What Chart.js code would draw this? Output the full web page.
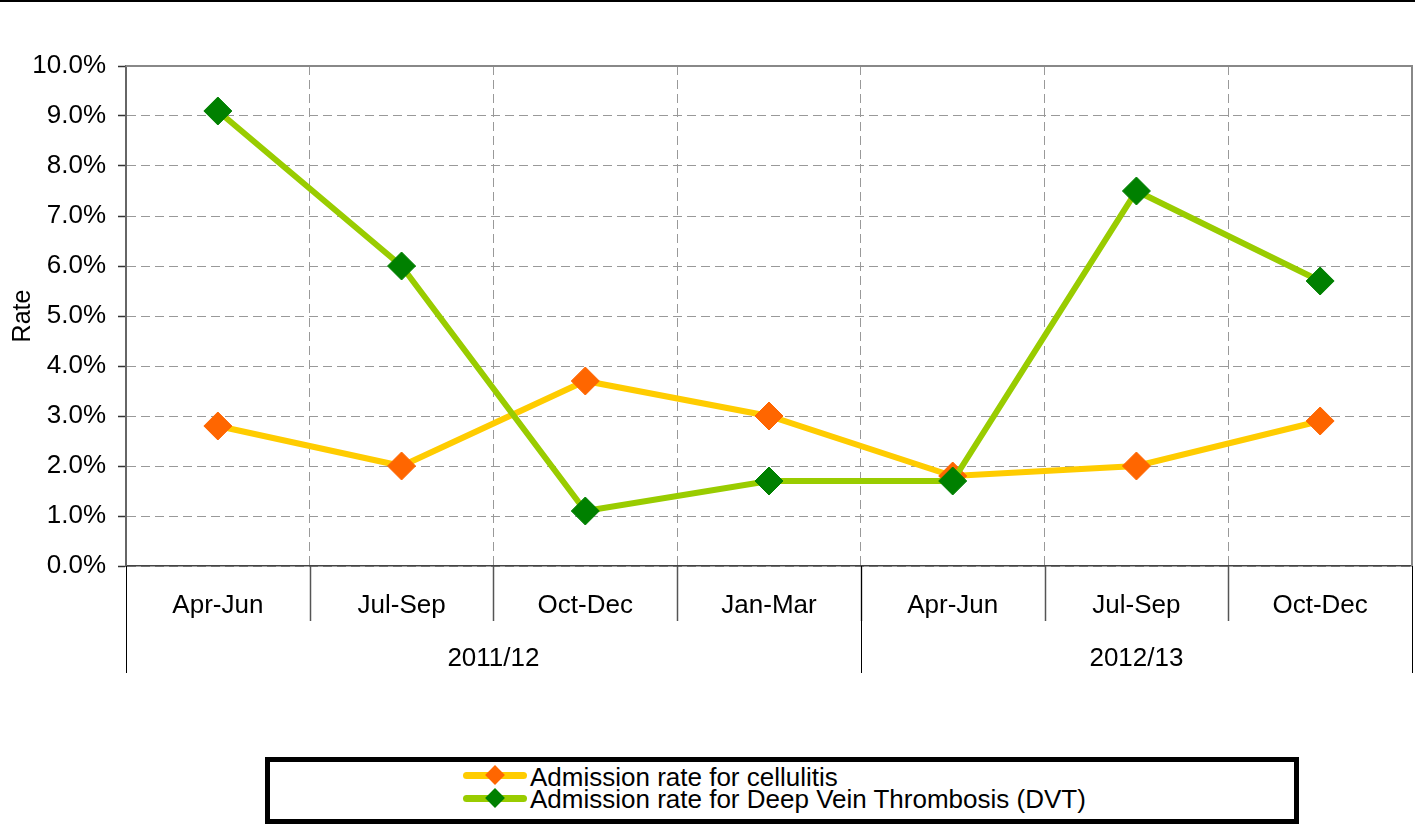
<!DOCTYPE html>
<html>
<head>
<meta charset="utf-8">
<script src="https://cdn.jsdelivr.net/npm/chart.js@4/dist/chart.umd.min.js"></script>
<style>
    body { margin: 0; background: #fff; font-family: "Liberation Sans", Arial, sans-serif; }
    #topline { position: absolute; left: 0; top: 0; width: 1415px; height: 2px; background: #000; }
    #grafico { position: absolute; left: 0; top: 0; }
    #legenda {
        position: absolute; left: 265px; top: 757px; width: 1034px; height: 67px;
        box-sizing: border-box; border: 5px solid #000; background: #fff;
    }
    .linha { position: absolute; left: 193px; width: 64px; height: 7px; border-radius: 4px; }
    .losango { position: absolute; left: 218px; width: 14px; height: 14px; transform: rotate(45deg); }
    .texto { position: absolute; left: 260px; font-size: 26px; line-height: 26px; color: #000; white-space: nowrap; }
</style>
</head>
<body>
<canvas id="grafico" width="1415" height="740"></canvas>
<div id="topline"></div>
<div id="legenda"></div>
<script>
var quarters = ['Apr-Jun', 'Jul-Sep', 'Oct-Dec', 'Jan-Mar', 'Apr-Jun', 'Jul-Sep', 'Oct-Dec']
var years = ['2011/12', '2012/13']
var yearSpans = [4, 3]
var cellulitis = [2.8, 2.0, 3.7, 3.0, 1.8, 2.0, 2.9]
var dvt = [9.1, 6.0, 1.1, 1.7, 1.7, 7.5, 5.7]
var seriesNames = ['Admission rate for cellulitis', 'Admission rate for Deep Vein Thrombosis (DVT)']
var lineColors = ['#FFCC00', '#99CC00']
var markerColors = ['#FF6600', '#008000']

const fonte = "'Liberation Sans', Arial, sans-serif"

// frame, separators under the axis and the year row
const extras = {
    id: 'extras',
    afterDraw(chart) {
        const ctx = chart.ctx
        const area = chart.chartArea
        const step = (area.right - area.left) / quarters.length

        ctx.save()
        ctx.strokeStyle = '#888'
        ctx.lineWidth = 2
        ctx.beginPath()
        ctx.moveTo(area.left, area.top)
        ctx.lineTo(area.right, area.top)
        ctx.lineTo(area.right, area.bottom)
        ctx.stroke()

        // quarter separators
        ctx.strokeStyle = '#555'
        ctx.lineWidth = 1.5
        for (var i = 1; i < quarters.length; i++) {
            const px = Math.round(area.left + i * step) + 0.5
            ctx.beginPath()
            ctx.moveTo(px, area.bottom)
            ctx.lineTo(px, area.bottom + 55)
            ctx.stroke()
        }

        // year separators and labels
        ctx.strokeStyle = '#000'
        ctx.lineWidth = 1
        ctx.fillStyle = '#000'
        ctx.font = '26px ' + fonte
        ctx.textAlign = 'center'
        ctx.textBaseline = 'alphabetic'
        var start = 0
        for (var j = 0; j <= years.length; j++) {
            const px = Math.round(area.left + start * step) + 0.5
            ctx.beginPath()
            ctx.moveTo(px, area.bottom)
            ctx.lineTo(px, area.bottom + 107)
            ctx.stroke()
            if (j < years.length) {
                const mid = area.left + (start + yearSpans[j] / 2) * step
                ctx.fillText(years[j], mid, area.bottom + 100)
                start += yearSpans[j]
            }
        }
        ctx.restore()
    }
}

const ctx = document.getElementById('grafico')
const grafico = new Chart(ctx, {
    type: 'line',
    data: {
        labels: quarters,
        datasets: [
            {
                label: seriesNames[0],
                data: cellulitis,
                borderColor: lineColors[0],
                borderWidth: 6,
                pointStyle: 'rectRot',
                pointRadius: 14,
                pointBackgroundColor: markerColors[0],
                pointBorderColor: markerColors[0],
                pointBorderWidth: 1,
                order: 2,
            },
            {
                label: seriesNames[1],
                data: dvt,
                borderColor: lineColors[1],
                borderWidth: 6,
                pointStyle: 'rectRot',
                pointRadius: 14,
                pointBackgroundColor: markerColors[1],
                pointBorderColor: markerColors[1],
                pointBorderWidth: 1,
                order: 1,
            },
        ],
    },
    options: {
        responsive: false,
        animation: false,
        layout: { autoPadding: false, padding: { top: 66, right: 3, left: 0, bottom: 0 } },
        plugins: {
            legend: { display: false },
            tooltip: { enabled: false },
        },
        scales: {
            x: {
                offset: true,
                grid: { offset: true, color: '#999', lineWidth: 1, drawTicks: false },
                border: { color: '#444', width: 1.5, dash: [9, 5] },
                ticks: { color: '#000', font: { family: fonte, size: 26 }, padding: 24, maxRotation: 0, autoSkip: false },
                afterFit: function (scale) { scale.height = 174 },
            },
            y: {
                min: 0,
                max: 10,
                grid: { color: '#999', lineWidth: 1, tickLength: 8, tickColor: '#333', tickBorderDash: [], tickWidth: 1.5 },
                border: { color: '#666', width: 2, dash: [9, 5] },
                ticks: {
                    stepSize: 1,
                    padding: 12,
                    color: '#000',
                    font: { family: fonte, size: 26 },
                    callback: function (v) { return v.toFixed(1) + '%' },
                },
                title: { display: true, text: 'Rate', color: '#000', font: { family: fonte, size: 25 }, padding: { top: 8, bottom: 0 } },
                afterFit: function (scale) { scale.width = 126 },
            },
        },
    },
    plugins: [extras],
})

// legend
const legenda = document.getElementById('legenda')
const centros = [13, 36]
const topos = [2, 24]
for (var k = 0; k < seriesNames.length; k++) {
    const linha = document.createElement('div')
    linha.className = 'linha'
    linha.style.top = (centros[k] - 3.5) + 'px'
    linha.style.background = lineColors[k]
    const losango = document.createElement('div')
    losango.className = 'losango'
    losango.style.top = (centros[k] - 7) + 'px'
    losango.style.background = markerColors[k]
    const texto = document.createElement('div')
    texto.className = 'texto'
    texto.style.top = topos[k] + 'px'
    texto.textContent = seriesNames[k]
    legenda.appendChild(linha)
    legenda.appendChild(losango)
    legenda.appendChild(texto)
}
</script>
</body>
</html>
